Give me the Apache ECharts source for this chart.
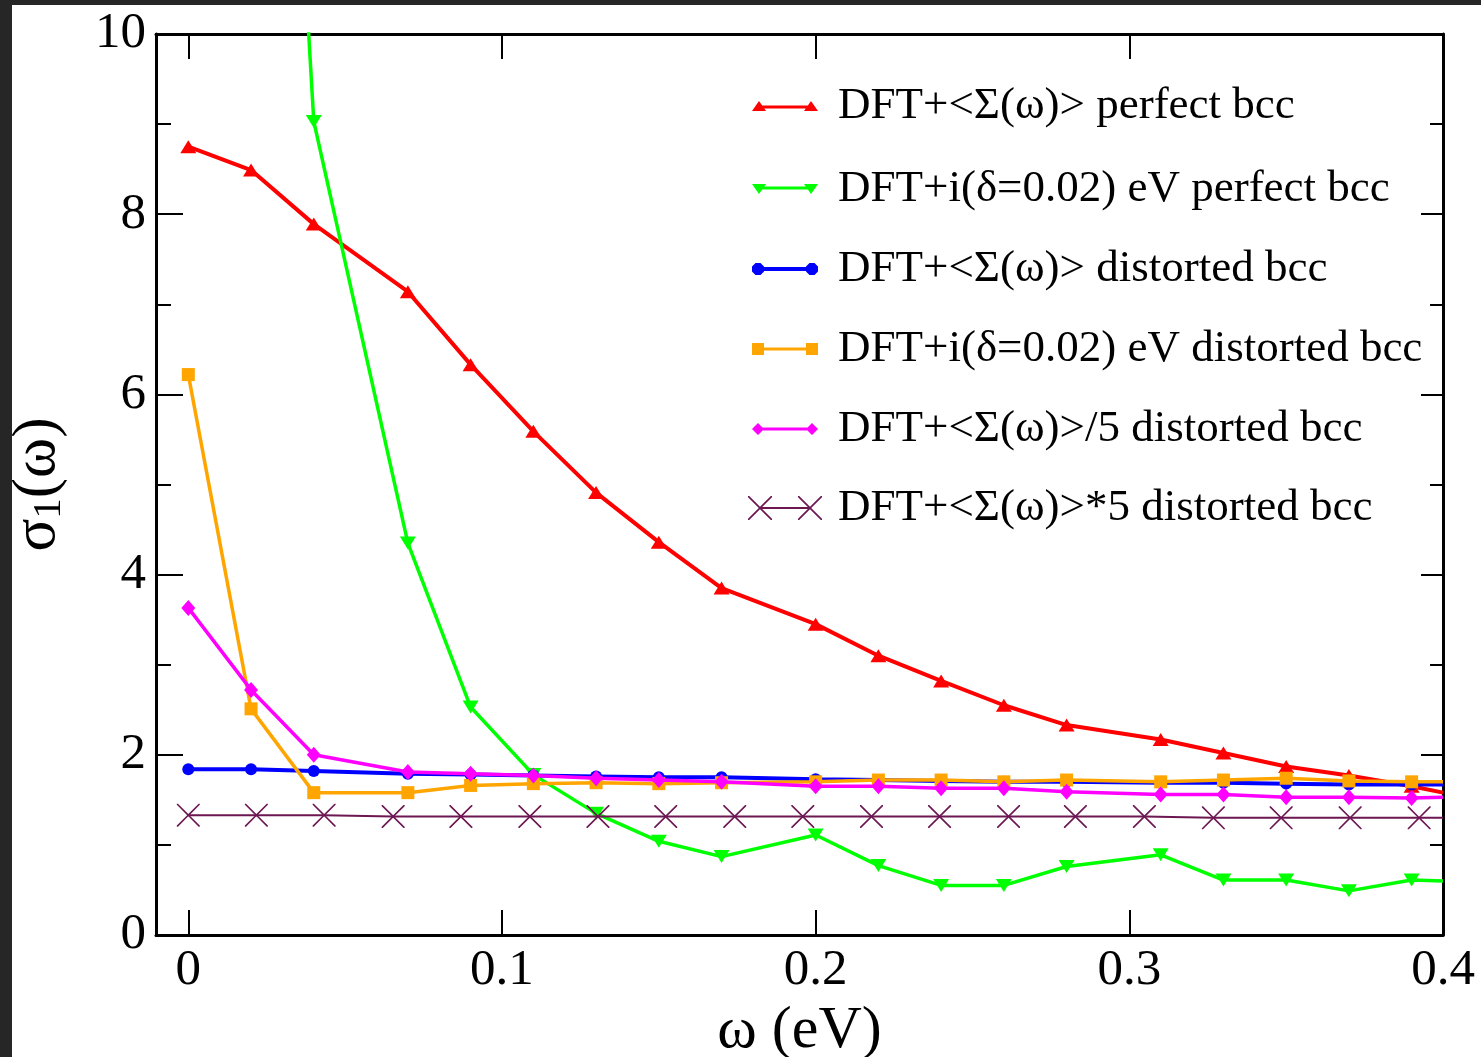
<!DOCTYPE html>
<html>
<head>
<meta charset="utf-8">
<script src="https://cdn.jsdelivr.net/npm/echarts@6/dist/echarts.min.js"></script>
<style>
  html, body { margin: 0; padding: 0; background: #ffffff; }
  #chart { width: 1481px; height: 1057px; }
</style>
</head>
<body>
<div id="chart"></div>
<script>
// ---- data ----
const omega = [0, 0.02, 0.04, 0.07, 0.09, 0.11, 0.13, 0.15, 0.17, 0.20, 0.22, 0.24, 0.26, 0.28, 0.31, 0.33, 0.35, 0.37, 0.39, 0.40];
const sigmaPerfectSelf  = [8.75, 8.49, 7.89, 7.14, 6.33, 5.59, 4.91, 4.36, 3.85, 3.45, 3.10, 2.82, 2.55, 2.33, 2.17, 2.02, 1.87, 1.77, 1.65, 1.58];
const sigmaPerfectDelta = [null, 21.0, 9.03, 4.35, 2.53, 1.78, 1.35, 1.04, 0.87, 1.11, 0.77, 0.55, 0.55, 0.76, 0.89, 0.61, 0.61, 0.49, 0.61, 0.60];
const sigmaDistSelf     = [1.84, 1.84, 1.82, 1.79, 1.78, 1.77, 1.76, 1.75, 1.75, 1.73, 1.72, 1.71, 1.70, 1.70, 1.69, 1.69, 1.68, 1.67, 1.67, 1.67];
const sigmaDistDelta    = [6.22, 2.51, 1.58, 1.58, 1.66, 1.68, 1.69, 1.68, 1.69, 1.70, 1.72, 1.72, 1.70, 1.72, 1.70, 1.72, 1.74, 1.71, 1.70, 1.70];
const sigmaDistSelfDiv5 = [3.63, 2.72, 2.00, 1.81, 1.79, 1.77, 1.74, 1.72, 1.70, 1.65, 1.65, 1.63, 1.63, 1.59, 1.56, 1.56, 1.53, 1.53, 1.52, 1.53];
const omegaX = [0, 0.0217, 0.0433, 0.0653, 0.0869, 0.1089, 0.1306, 0.1522, 0.1742, 0.1959, 0.2178, 0.2395, 0.2615, 0.2828, 0.3048, 0.3268, 0.3484, 0.3704, 0.3924, 0.40];
const sigmaDistSelfMul5 = [1.33, 1.33, 1.33, 1.315, 1.315, 1.315, 1.315, 1.315, 1.315, 1.315, 1.315, 1.315, 1.315, 1.315, 1.315, 1.30, 1.30, 1.30, 1.30, 1.30];

const seriesNames = [
  'DFT+<Σ(ω)> perfect bcc',
  'DFT+i(δ=0.02) eV perfect bcc',
  'DFT+<Σ(ω)> distorted bcc',
  'DFT+i(δ=0.02) eV distorted bcc',
  'DFT+<Σ(ω)>/5 distorted bcc',
  'DFT+<Σ(ω)>*5 distorted bcc'
];
const xTickValues = [0, 0.1, 0.2, 0.3, 0.4];
const xTickLabels = ['0', '0.1', '0.2', '0.3', '0.4'];

// ---- styling ----
const FONT = '"Liberation Serif", "DejaVu Serif", serif';
const crossPath = 'path://M0,0L1.2,0L12,10.8L22.8,0L24,0L24,1.2L13.2,12L24,22.8L24,24L22.8,24L12,13.2L1.2,24L0,24L0,22.8L10.8,12L0,1.2Z';
function octagon(cx) {
  return 'M' + (cx - 2.5) + ',0L' + (cx + 2.5) + ',0L' + (cx + 6) + ',3.5L' + (cx + 6) + ',8.5L' + (cx + 2.5) + ',12L' + (cx - 2.5) + ',12L' + (cx - 6) + ',8.5L' + (cx - 6) + ',3.5Z';
}
function crossAt(ox) {
  const p = [[0,0],[1.2,0],[12,10.8],[22.8,0],[24,0],[24,1.2],[13.2,12],[24,22.8],[24,24],[22.8,24],[12,13.2],[1.2,24],[0,24],[0,22.8],[10.8,12],[0,1.2]];
  return 'M' + p.map(q => (q[0] + ox) + ',' + q[1]).join('L') + 'Z';
}
const styles = [
  { color: '#ff0000', width: 4, symbol: 'triangle', size: [16, 13], rotate: 0,
    icon: 'path://M0,10L7,0L14,10Z M52,10L59,0L66,10Z M7,4.5L59,4.5L59,7.5L7,7.5Z', iw: 66, ih: 10, left: 752, row: 106, pad: 15 },
  { color: '#00ff00', width: 3.5, symbol: 'triangle', size: [16, 13], rotate: 180,
    icon: 'path://M0,0L14,0L7,10Z M52,0L66,0L59,10Z M7,2.5L59,2.5L59,5.5L7,5.5Z', iw: 66, ih: 10, left: 752, row: 189, pad: 15 },
  { color: '#0000ff', width: 4, symbol: 'circle', size: 12, rotate: 0,
    icon: 'path://' + octagon(6) + ' ' + octagon(60) + ' M6,4L60,4L60,8L6,8Z', iw: 66, ih: 12, left: 752, row: 269, pad: 15 },
  { color: '#ffa500', width: 3.5, symbol: 'rect', size: 13, rotate: 0,
    icon: 'path://M0,0L12,0L12,12L0,12Z M54,0L66,0L66,12L54,12Z M6,4.5L60,4.5L60,7.5L6,7.5Z', iw: 66, ih: 12, left: 752, row: 349, pad: 15 },
  { color: '#ff00ff', width: 3.5, symbol: 'diamond', size: [14, 16], rotate: 0,
    icon: 'path://M0,6L6,0L12,6L6,12Z M54,6L60,0L66,6L60,12Z M6,4.5L60,4.5L60,7.5L6,7.5Z', iw: 66, ih: 12, left: 752, row: 429, pad: 15 },
  { color: '#6d1752', width: 2, symbol: crossPath, size: 23, rotate: 0,
    icon: 'path://' + crossAt(0) + ' ' + crossAt(50) + ' M12,11L62,11L62,13L12,13Z', iw: 74, ih: 24, left: 748, row: 508, pad: 11 }
];

function pts(xs, ys) {
  const out = [];
  for (let i = 0; i < xs.length; i++) {
    if (ys[i] === null) continue;
    const item = { value: [xs[i], ys[i]] };
    if (i === xs.length - 1) item.symbol = 'none';
    out.push(item);
  }
  return out;
}
const seriesData = [
  pts(omega, sigmaPerfectSelf),
  pts(omega, sigmaPerfectDelta),
  pts(omega, sigmaDistSelf),
  pts(omega, sigmaDistDelta),
  pts(omega, sigmaDistSelfDiv5),
  pts(omegaX, sigmaDistSelfMul5)
];

const series = seriesNames.map((name, i) => ({
  name: name,
  type: 'line',
  xAxisIndex: 0,
  yAxisIndex: 0,
  data: seriesData[i],
  symbol: styles[i].symbol,
  symbolSize: styles[i].size,
  symbolRotate: styles[i].rotate,
  symbolKeepAspect: false,
  clip: true,
  itemStyle: { color: styles[i].color, borderWidth: 0 },
  lineStyle: { color: styles[i].color, width: styles[i].width },
  emphasis: { disabled: true },
  z: 2 + i
}));

const LEG_FS = 45, LEG_LH = 46;
const legends = seriesNames.map((name, i) => ({
  data: [name],
  orient: 'vertical',
  left: styles[i].left,
  top: styles[i].row - LEG_LH / 2,
  padding: 0,
  icon: styles[i].icon,
  itemWidth: styles[i].iw,
  itemHeight: styles[i].ih,
  symbolKeepAspect: false,
  selectedMode: false,
  itemStyle: { color: styles[i].color, borderWidth: 0 },
  textStyle: { fontFamily: FONT, fontSize: LEG_FS, lineHeight: LEG_LH, color: '#000', padding: [0, 0, 0, styles[i].pad] }
}));

const axisLineStyle = { color: '#000', width: 3 };
const tickStyle = { color: '#000', width: 2 };

const option = {
  animation: false,
  backgroundColor: '#ffffff',
  grid: { left: 156, right: 38, top: 34, bottom: 122, containLabel: false, outerBoundsMode: 'none' },
  legend: legends,
  xAxis: [
    {
      type: 'value', position: 'bottom', min: -0.0103, max: 0.4,
      name: 'ω (eV)', nameLocation: 'middle', nameGap: 59,
      nameTextStyle: { fontFamily: FONT, fontSize: 60, color: '#000' },
      axisLine: { show: true, onZero: false, lineStyle: axisLineStyle },
      axisTick: { show: true, inside: true, length: 25, lineStyle: tickStyle, customValues: xTickValues },
      axisLabel: { show: true, fontFamily: FONT, fontSize: 51, color: '#000', margin: 10,
                   customValues: xTickValues, formatter: v => xTickLabels[xTickValues.indexOf(v)] ?? String(v) },
      splitLine: { show: false }
    },
    {
      type: 'value', position: 'top', min: -0.0103, max: 0.4,
      axisLine: { show: true, onZero: false, lineStyle: axisLineStyle },
      axisTick: { show: true, inside: true, length: 25, lineStyle: tickStyle, customValues: xTickValues },
      axisLabel: { show: false },
      splitLine: { show: false }
    }
  ],
  yAxis: [
    {
      type: 'value', position: 'left', min: 0, max: 10, interval: 2,
      name: '{a|σ}{b|1}{a|(ω)}', nameLocation: 'middle', nameGap: 86, nameRotate: 90,
      nameTextStyle: {
        color: '#000',
        rich: {
          a: { fontFamily: FONT, fontSize: 61, lineHeight: 64, color: '#000' },
          b: { fontFamily: FONT, fontSize: 41, lineHeight: 22, verticalAlign: 'bottom', color: '#000' }
        }
      },
      axisLine: { show: true, onZero: false, lineStyle: axisLineStyle },
      axisTick: { show: true, inside: true, length: 27, lineStyle: tickStyle },
      minorTick: { show: true, splitNumber: 2, length: 15, lineStyle: tickStyle },
      axisLabel: { show: true, fontFamily: FONT, fontSize: 51, color: '#000', margin: 10 },
      splitLine: { show: false }
    },
    {
      type: 'value', position: 'right', min: 0, max: 10, interval: 2,
      axisLine: { show: true, onZero: false, lineStyle: axisLineStyle },
      axisTick: { show: true, inside: true, length: 22, lineStyle: tickStyle },
      minorTick: { show: true, splitNumber: 2, length: 13, lineStyle: tickStyle },
      axisLabel: { show: false },
      splitLine: { show: false }
    }
  ],
  graphic: [
    { type: 'rect', shape: { x: 0, y: 0, width: 1481, height: 5 }, style: { fill: '#262626' }, z: 100 },
    { type: 'rect', shape: { x: 0, y: 0, width: 12, height: 1057 }, style: { fill: '#262626' }, z: 100 }
  ],
  series: series
};

const chart = echarts.init(document.getElementById('chart'), null, { renderer: 'canvas' });
chart.setOption(option);
</script>
</body>
</html>
